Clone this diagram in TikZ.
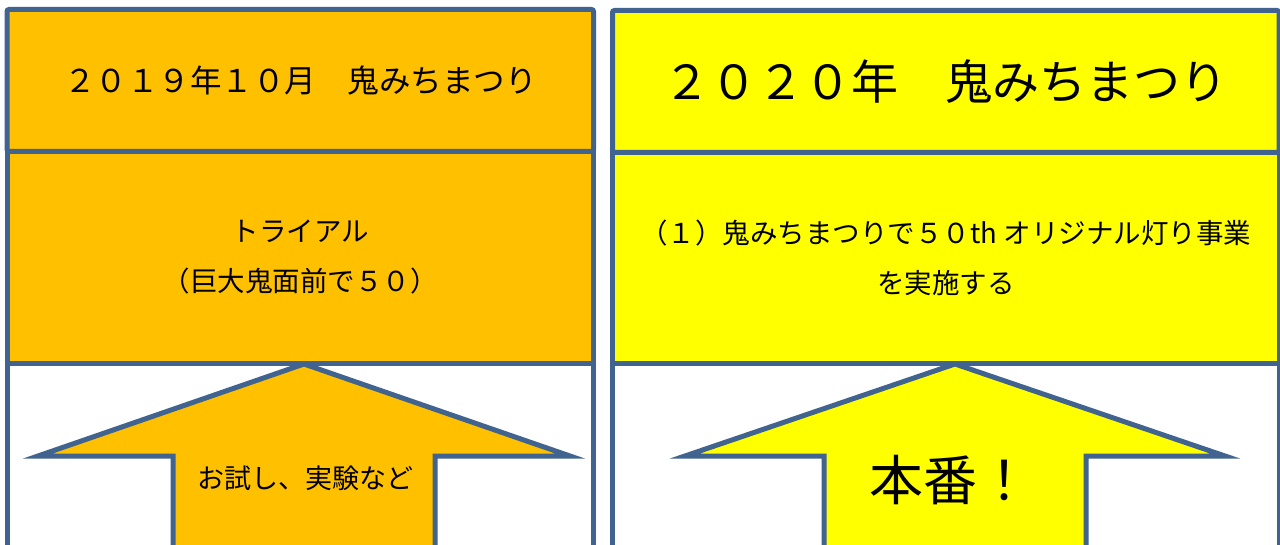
\documentclass[tikz,border=0pt]{standalone}
\usepackage{fontspec}
\newfontfamily\jp{Noto Sans CJK JP}
\definecolor{edge}{HTML}{41638F}
\definecolor{orangeC}{HTML}{FFC000}
\definecolor{yellowC}{HTML}{FFFF00}
\begin{document}
\begin{tikzpicture}[x=1pt,y=-1pt,
  band/.style={draw=edge, line width=5pt, inner sep=0pt, outer sep=0pt, text=black, align=center},
  uparrow/.style={draw=edge, line width=5pt, line join=miter},
  lbl/.style={inner sep=0pt, text=black, align=center}]
\useasboundingbox (0,0) rectangle (1280,545);
\clip (0,0) rectangle (1280,545);
% left panel
\node[band, fill=white, minimum width=586.5pt, minimum height=300pt] (lbot) at (300.25,513.5) {};
\node[band, fill=orangeC, minimum width=586.5pt, minimum height=212pt,
      font=\jp\fontsize{27.5}{50}\selectfont] (lmid) at (300.25,257.5) {トライアル\\（巨大鬼面前で５０）};
\node[band, fill=orangeC, minimum width=586.5pt, minimum height=142pt, rounded corners=2pt,
      font=\jp\fontsize{31.5}{36}\selectfont] (ltop) at (300.25,80.5) {２０１９年１０月　鬼みちまつり};
% right panel
\node[band, fill=white, minimum width=666.5pt, minimum height=300pt] (rbot) at (945.75,513.5) {};
\node[band, fill=yellowC, minimum width=666.5pt, minimum height=212pt,
      font=\jp\fontsize{27.5}{50}\selectfont] (rmid) at (945.75,257.5) {（１）鬼みちまつりで５０th オリジナル灯り事業\\を実施する};
\node[band, fill=yellowC, minimum width=666.5pt, minimum height=142pt, rounded corners=2pt,
      font=\jp\fontsize{47}{50}\selectfont] (rtop) at (945.75,81.5) {２０２０年　鬼みちまつり};
% arrows
\draw[uparrow, fill=orangeC] (304,364) -- (38,456) -- (173,456) -- (173,570) -- (435,570) -- (435,456) -- (570,456) -- cycle;
\draw[uparrow, fill=yellowC] (955,364) -- (685,456) -- (824,456) -- (824,570) -- (1086,570) -- (1086,456) -- (1225,456) -- cycle;
\node[lbl, font=\jp\fontsize{27}{30}\selectfont] (ltext) at (305,478) {お試し、実験など};
\node[lbl, font=\jp\fontsize{54}{60}\selectfont] (rtext) at (950,480) {本番！};
\end{tikzpicture}
\end{document}
